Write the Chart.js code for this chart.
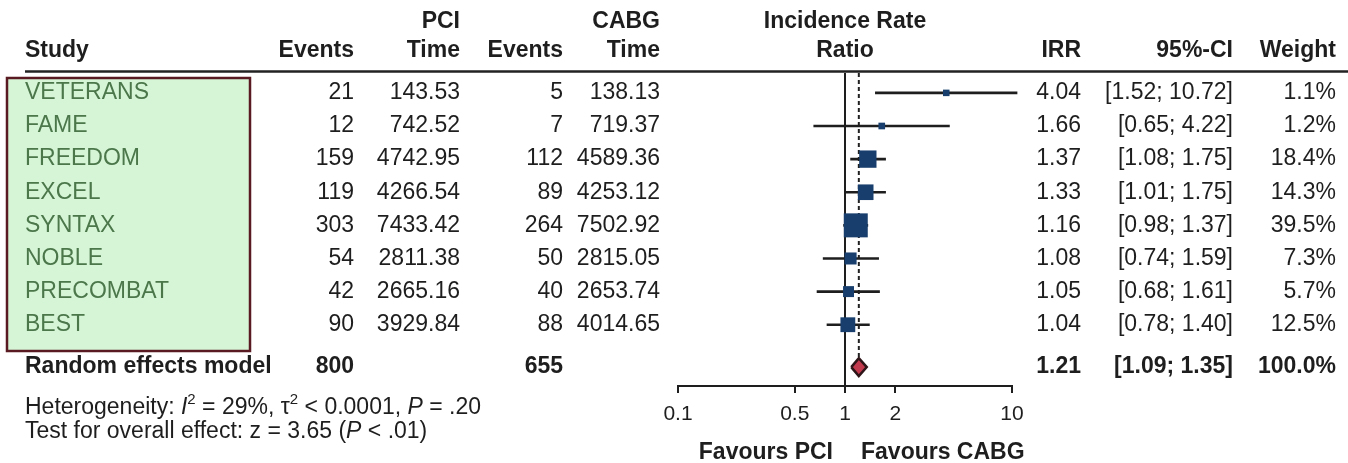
<!DOCTYPE html>
<html>
<head>
<meta charset="utf-8">
<script src="https://cdn.jsdelivr.net/npm/chart.js@4/dist/chart.umd.min.js"></script>
<style>
html,body{margin:0;padding:0;background:#fff;}
canvas{display:block;}
</style>
</head>
<body>
<canvas id="forest" width="1348" height="463"></canvas>
<script>
/* =========================
   FOREST PLOT DATA
========================= */

const studies = ["VETERANS","FAME","FREEDOM","EXCEL","SYNTAX","NOBLE","PRECOMBAT","BEST"];
const pciEvents = [21,12,159,119,303,54,42,90];
const pciTime = [143.53,742.52,4742.95,4266.54,7433.42,2811.38,2665.16,3929.84];
const cabgEvents = [5,7,112,89,264,50,40,88];
const cabgTime = [138.13,719.37,4589.36,4253.12,7502.92,2815.05,2653.74,4014.65];
const irr = [4.04,1.66,1.37,1.33,1.16,1.08,1.05,1.04];
const ciLow = [1.52,0.65,1.08,1.01,0.98,0.74,0.68,0.78];
const ciHigh = [10.72,4.22,1.75,1.75,1.37,1.59,1.61,1.40];
const weight = [1.1,1.2,18.4,14.3,39.5,7.3,5.7,12.5];

const pooledLabel = "Random effects model";
const pooledEvents = [800,655];
const pooledIrr = 1.21;
const pooledCi = [1.09,1.35];
const pooledWeight = 100.0;

const xTicks = [0.1,0.5,1,2,10];

/* =========================
   LAYOUT
========================= */

const FONT = "'Liberation Sans', Arial, Helvetica, sans-serif";
const FS = 23;
const TXT = "#1e1e1e";
const NAVY = "#173e6c";
const Y_MIN = -0.6;
const Y_MAX = 8.85;
const POOLED_ROW = 8.28;
const DIAMOND_H = 0.27;

// right edges of the text columns
const col = {
  study:25,
  pciEv:354,
  pciTime:460,
  cabgEv:563,
  cabgTime:660,
  irr:1081,
  ci:1233,
  weight:1336
};

const rows = studies.map((s,i)=>i);

// box side in px grows with sqrt(weight); chart.js "rect" side = r*sqrt(2)
function boxRadius(w){
  return (3 + 3.34*Math.sqrt(w)) / Math.SQRT2;
}

/* =========================
   TEXT TABLE PLUGIN
========================= */

function drawRuns(ctx,x,y,runs,size){
  let cx = x;
  runs.forEach(r=>{
    const fs = r.sup ? Math.round(size*0.65) : size;
    ctx.font = (r.italic ? "italic " : "") + fs + "px " + FONT;
    ctx.textAlign = "left";
    ctx.fillText(r.t, cx, r.sup ? y - size*0.36 : y);
    cx += ctx.measureText(r.t).width;
  });
}

const tablePlugin = {
  id:"tableText",
  beforeDatasetsDraw(chart){
    const ctx = chart.ctx;
    ctx.save();
    // highlight box around study names
    ctx.fillStyle = "#d6f5d6";
    ctx.fillRect(7,78,243,273);
    ctx.strokeStyle = "#5a1a22";
    ctx.lineWidth = 2.5;
    ctx.strokeRect(7,78,243,273);
    ctx.restore();
  },
  afterDraw(chart){
    const ctx = chart.ctx;
    const ys = chart.scales.y;
    const xs = chart.scales.x;
    ctx.save();
    ctx.textBaseline = "middle";
    ctx.fillStyle = TXT;

    // header
    ctx.font = "bold " + FS + "px " + FONT;
    ctx.textAlign = "left";
    ctx.fillText("Study", col.study, 51);
    ctx.textAlign = "right";
    ctx.fillText("PCI", col.pciTime, 22);
    ctx.fillText("CABG", col.cabgTime, 22);
    ctx.fillText("Events", col.pciEv, 51);
    ctx.fillText("Time", col.pciTime, 51);
    ctx.fillText("Events", col.cabgEv, 51);
    ctx.fillText("Time", col.cabgTime, 51);
    ctx.fillText("IRR", col.irr, 51);
    ctx.fillText("95%-CI", col.ci, 51);
    ctx.fillText("Weight", col.weight, 51);
    ctx.textAlign = "center";
    const mid = (xs.left + xs.right)/2;
    ctx.fillText("Incidence Rate", mid, 22);
    ctx.fillText("Ratio", mid, 51);

    ctx.strokeStyle = "#222";
    ctx.lineWidth = 2.5;
    ctx.beginPath();
    ctx.moveTo(25,71.5);
    ctx.lineTo(1348,71.5);
    ctx.stroke();

    // study rows
    ctx.font = FS + "px " + FONT;
    rows.forEach(i=>{
      const y = ys.getPixelForValue(i);
      ctx.textAlign = "left";
      ctx.fillStyle = "#4b774b";
      ctx.fillText(studies[i], col.study, y);
      ctx.fillStyle = TXT;
      ctx.textAlign = "right";
      ctx.fillText(String(pciEvents[i]), col.pciEv, y);
      ctx.fillText(pciTime[i].toFixed(2), col.pciTime, y);
      ctx.fillText(String(cabgEvents[i]), col.cabgEv, y);
      ctx.fillText(cabgTime[i].toFixed(2), col.cabgTime, y);
      ctx.fillText(irr[i].toFixed(2), col.irr, y);
      ctx.fillText("[" + ciLow[i].toFixed(2) + "; " + ciHigh[i].toFixed(2) + "]", col.ci, y);
      ctx.fillText(weight[i].toFixed(1) + "%", col.weight, y);
    });

    // pooled row
    const py = ys.getPixelForValue(POOLED_ROW);
    ctx.font = "bold " + FS + "px " + FONT;
    ctx.textAlign = "left";
    ctx.fillText(pooledLabel, col.study, py);
    ctx.textAlign = "right";
    ctx.fillText(String(pooledEvents[0]), col.pciEv, py);
    ctx.fillText(String(pooledEvents[1]), col.cabgEv, py);
    ctx.fillText(pooledIrr.toFixed(2), col.irr, py);
    ctx.fillText("[" + pooledCi[0].toFixed(2) + "; " + pooledCi[1].toFixed(2) + "]", col.ci, py);
    ctx.fillText(pooledWeight.toFixed(1) + "%", col.weight, py);

    // favours labels
    const one = xs.getPixelForValue(1);
    ctx.textAlign = "right";
    ctx.fillText("Favours PCI", one - 12, 453);
    ctx.textAlign = "left";
    ctx.fillText("Favours CABG", one + 16, 453);

    // heterogeneity notes
    ctx.fillStyle = TXT;
    drawRuns(ctx,25,408,[
      {t:"Heterogeneity: "},{t:"I",italic:true},{t:"2",sup:true},
      {t:" = 29%, "},{t:"\u03c4"},{t:"2",sup:true},{t:" < 0.0001, "},
      {t:"P",italic:true},{t:" = .20"}
    ],FS);
    drawRuns(ctx,25,432,[
      {t:"Test for overall effect: z = 3.65 ("},{t:"P",italic:true},{t:" < .01)"}
    ],FS);
    ctx.restore();
  }
};

/* =========================
   CHART
========================= */

const ctx = document.getElementById("forest").getContext("2d");

new Chart(ctx,{
  type:"scatter",
  data:{
    datasets:[
      {
        // confidence intervals
        type:"bar",
        indexAxis:"y",
        data:rows.map(i=>({x:[ciLow[i],ciHigh[i]], y:i})),
        backgroundColor:"#1e1e1e",
        barThickness:2,
        clip:false,
        order:3
      },
      {
        // study estimates, box area ~ weight
        type:"scatter",
        data:rows.map(i=>({x:irr[i], y:i})),
        pointStyle:"rect",
        pointRadius:c=>boxRadius(weight[c.dataIndex]),
        backgroundColor:NAVY,
        borderWidth:0,
        order:1
      },
      {
        // pooled estimate reference
        type:"line",
        data:[{x:pooledIrr,y:Y_MIN},{x:pooledIrr,y:POOLED_ROW}],
        borderColor:"#222",
        borderWidth:2,
        borderDash:[4,3],
        pointRadius:0,
        order:4
      },
      {
        // pooled diamond
        type:"line",
        data:[
          {x:pooledCi[0],y:POOLED_ROW},
          {x:pooledIrr,y:POOLED_ROW-DIAMOND_H},
          {x:pooledCi[1],y:POOLED_ROW},
          {x:pooledIrr,y:POOLED_ROW+DIAMOND_H},
          {x:pooledCi[0],y:POOLED_ROW}
        ],
        borderColor:"#2e1518",
        borderWidth:2.5,
        borderJoinStyle:"miter",
        backgroundColor:"#c23a4e",
        fill:"shape",
        tension:0,
        pointRadius:0,
        order:0
      }
    ]
  },
  options:{
    responsive:false,
    animation:false,
    layout:{
      padding:{left:678, right:336, top:73, bottom:37}
    },
    plugins:{
      legend:{display:false},
      tooltip:{enabled:false}
    },
    scales:{
      x:{
        type:"logarithmic",
        min:0.1,
        max:10,
        offset:false,
        afterBuildTicks:axis=>{
          axis.ticks = xTicks.map(v=>({value:v}));
        },
        afterFit:axis=>{
          axis.height = 40;
        },
        ticks:{
          callback:v=>String(v),
          color:TXT,
          padding:9,
          maxRotation:0,
          autoSkip:false,
          font:{family:FONT, size:21}
        },
        grid:{
          drawOnChartArea:true,
          color:c=>(c.tick && c.tick.value===1) ? "#1e1e1e" : "rgba(0,0,0,0)",
          lineWidth:2,
          tickColor:"#1e1e1e",
          tickLength:7
        },
        border:{display:true, color:"#1e1e1e", width:2}
      },
      y:{
        type:"linear",
        display:false,
        offset:false,
        reverse:true,
        min:Y_MIN,
        max:Y_MAX
      }
    }
  },
  plugins:[tablePlugin]
});
</script>
</body>
</html>
